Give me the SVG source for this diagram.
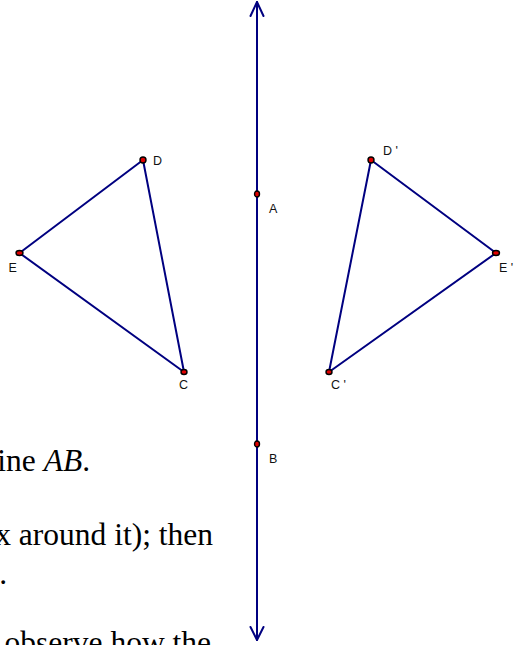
<svg xmlns="http://www.w3.org/2000/svg" width="515" height="645" viewBox="0 0 515 645">
<style>
.ln{stroke:#000080;stroke-width:2;fill:none;stroke-linecap:round;stroke-linejoin:round}
.pt{fill:#e00000;stroke:#000;stroke-width:1.4}
.lb{font-family:"Liberation Sans",Arial,sans-serif;font-size:12.5px;fill:#111}
.tx{font-family:"Liberation Serif","Times New Roman",serif;font-size:31.5px;fill:#000;text-anchor:end}
</style>
<rect width="515" height="645" fill="#fff"/>
<g id="text">
<text class="tx" x="90" y="471">ine <tspan font-style="italic">AB</tspan>.</text>
<text class="tx" x="213" y="545">x around it); then</text>
<text class="tx" x="7" y="584">.</text>
<text class="tx" x="211" y="653">observe how the</text>
</g>
<g id="connectors">
<line class="ln" x1="257" y1="2" x2="257" y2="640"/>
<polyline class="ln" points="250.5,16 257,2 263.5,16"/>
<polyline class="ln" points="250.5,627 257,640 263.5,627"/>
<polygon class="ln" points="143,160 19.5,253 184,372"/>
<polygon class="ln" points="371,160 496,253 329,372"/>
</g>
<g id="A"><ellipse class="pt" cx="257" cy="194" rx="2.5" ry="3"/><text class="lb" x="269" y="213">A</text></g>
<g id="B"><ellipse class="pt" cx="257" cy="444" rx="2.5" ry="3"/><text class="lb" x="269" y="463">B</text></g>
<g id="D"><ellipse class="pt" cx="143" cy="160" rx="3" ry="3"/><text class="lb" x="153" y="165">D</text></g>
<g id="E"><ellipse class="pt" cx="19.5" cy="253" rx="3.5" ry="2.5"/><text class="lb" x="8.5" y="272">E</text></g>
<g id="C"><ellipse class="pt" cx="184" cy="372" rx="3" ry="2.5"/><text class="lb" x="179" y="389">C</text></g>
<g id="D2"><ellipse class="pt" cx="371" cy="160" rx="3" ry="3"/><text class="lb" x="383" y="155">D '</text></g>
<g id="E2"><ellipse class="pt" cx="496" cy="253" rx="3.5" ry="2.5"/><text class="lb" x="499" y="272">E '</text></g>
<g id="C2"><ellipse class="pt" cx="329" cy="372" rx="3" ry="2.5"/><text class="lb" x="331" y="389">C '</text></g>
</svg>
